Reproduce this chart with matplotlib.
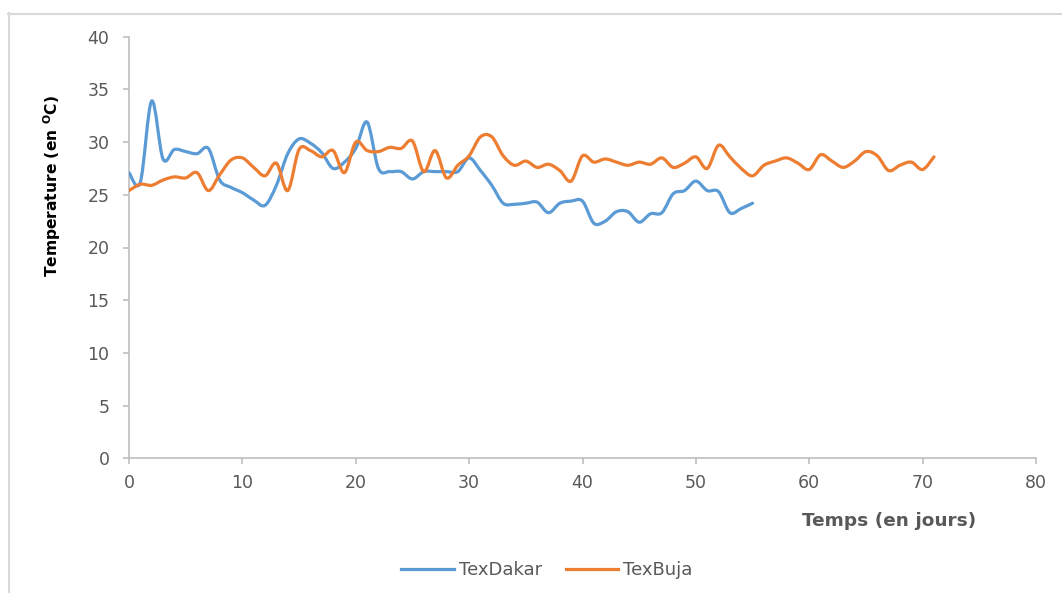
import matplotlib
matplotlib.use("Agg")
import matplotlib.pyplot as plt
from matplotlib.path import Path
from matplotlib.patches import PathPatch
from matplotlib.lines import Line2D
import numpy as np

plt.rcParams['font.family'] = ['DejaVu Sans']
plt.rcParams['mathtext.fontset'] = 'dejavusans'

# ---- data ----
days_dakar = list(range(0, 56))
tex_dakar = [27.1, 26.2, 33.9, 28.4, 29.3, 29.1, 28.9, 29.4, 26.4, 25.7,
             25.2, 24.5, 24.0, 25.9, 28.9, 30.3, 29.9, 29.0, 27.5, 28.1,
             29.4, 31.9, 27.5, 27.2, 27.2, 26.5, 27.2, 27.2, 27.2, 27.2,
             28.5, 27.3, 25.9, 24.2, 24.1, 24.2, 24.3, 23.3, 24.2, 24.4,
             24.4, 22.3, 22.5, 23.4, 23.4, 22.4, 23.2, 23.3, 25.1, 25.4,
             26.3, 25.4, 25.3, 23.3, 23.7, 24.2]
days_buja = list(range(0, 72))
tex_buja = [25.4, 26.0, 25.9, 26.4, 26.7, 26.6, 27.1, 25.4, 26.9, 28.3,
            28.5, 27.6, 26.8, 28.0, 25.4, 29.3, 29.2, 28.6, 29.2, 27.1,
            30.0, 29.2, 29.1, 29.5, 29.4, 30.1, 27.2, 29.2, 26.6, 27.8,
            28.7, 30.5, 30.5, 28.7, 27.8, 28.2, 27.6, 27.9, 27.3, 26.3,
            28.7, 28.1, 28.4, 28.1, 27.8, 28.1, 27.9, 28.5, 27.6, 28.0,
            28.6, 27.5, 29.7, 28.6, 27.5, 26.8, 27.8, 28.2, 28.5, 28.0,
            27.4, 28.8, 28.2, 27.6, 28.2, 29.1, 28.7, 27.3, 27.8, 28.1,
            27.4, 28.6]
series_names = ["TexDakar", "TexBuja"]
series_colors = ["#5B9BD5", "#ED7D31"]
x_ticks = [0, 10, 20, 30, 40, 50, 60, 70, 80]
y_ticks = [0, 5, 10, 15, 20, 25, 30, 35, 40]


def smooth_path(xs, ys):
    """Excel-like smoothed line: cubic Bezier through every data point."""
    P = np.column_stack([xs, ys]).astype(float)
    n = len(P)
    verts = [P[0]]
    codes = [Path.MOVETO]
    for i in range(n - 1):
        p_prev = P[i - 1] if i > 0 else P[i]
        p0 = P[i]
        p1 = P[i + 1]
        p_next = P[i + 2] if i + 2 < n else P[i + 1]
        c1 = p0 + (p1 - p_prev) / 6.0
        c2 = p1 - (p_next - p0) / 6.0
        verts += [c1, c2, p1]
        codes += [Path.CURVE4] * 3
    return Path(verts, codes)


W, H = 1062, 593
fig = plt.figure(figsize=(W / 100, H / 100), dpi=100)
ax = fig.add_axes([129 / W, 1 - 458.3 / H, (1036 - 129) / W, (458.3 - 36.7) / H])

for xs, ys, c in [(days_dakar, tex_dakar, series_colors[0]),
                  (days_buja, tex_buja, series_colors[1])]:
    patch = PathPatch(smooth_path(xs, ys), facecolor='none', edgecolor=c,
                      lw=2.3, capstyle='round', joinstyle='round', zorder=3)
    ax.add_patch(patch)

ax.set_xlim(0, 80)
ax.set_ylim(0, 40)
ax.set_xticks(x_ticks)
ax.set_yticks(y_ticks)
for s in ['top', 'right']:
    ax.spines[s].set_visible(False)
for s in ['left', 'bottom']:
    ax.spines[s].set_color('#bfbfbf')
    ax.spines[s].set_linewidth(1.2)
ax.tick_params(axis='both', direction='out', length=4, width=1.2,
               color='#bfbfbf', labelcolor='#595959', labelsize=12.5)
ax.tick_params(axis='y', pad=10)
ax.tick_params(axis='x', pad=7)

fig.text(889 / W, 1 - 521 / H, "Temps (en jours)", ha='center', va='center',
         fontsize=13.3, fontweight='bold', color='#595959')
fig.text(52 / W, 1 - 186 / H, r"Temperature (en $^{\mathbf{O}}$C)", ha='center',
         va='center', rotation=90, fontsize=11.2, fontweight='bold',
         color='black')

handles = [Line2D([], [], color=c, lw=2.3) for c in series_colors]
fig.legend(handles, series_names, loc='center', bbox_to_anchor=(547 / W, 1 - 570 / H),
           ncol=2, frameon=False, fontsize=13, labelcolor='#595959',
           handlelength=2.9, handletextpad=0.3, columnspacing=1.3)

# chart area border (partially visible)
fig.add_artist(Line2D([8.5 / W, 8.5 / W], [0, 1 - 13 / H], color='#d9d9d9',
                      lw=1.5, transform=fig.transFigure))
fig.add_artist(Line2D([8 / W, 1], [1 - 13.5 / H, 1 - 13.5 / H], color='#d9d9d9',
                      lw=1.5, transform=fig.transFigure))

fig.savefig("out.png", dpi=100)
